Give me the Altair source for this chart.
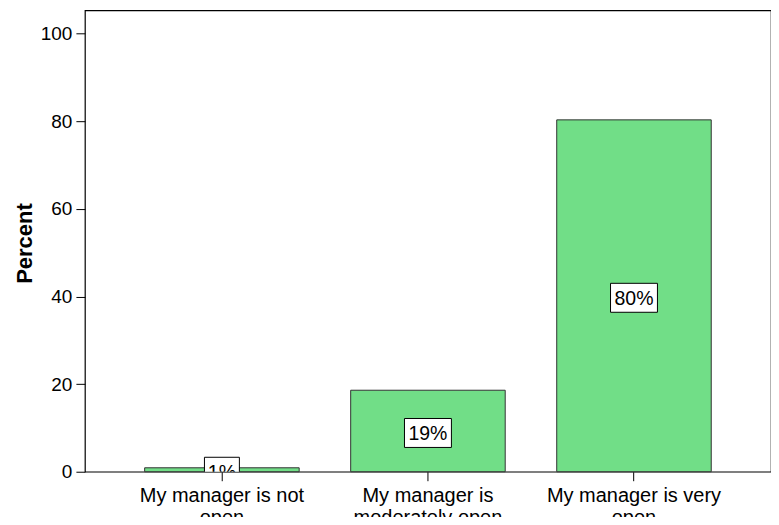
import json
import altair as alt
import pandas as pd

categories = ["My manager is not open", "My manager is moderately open", "My manager is very open"]
label_lines = [["My manager is not", "open"], ["My manager is", "moderately open"], ["My manager is very", "open"]]
percents = [0.9, 18.6, 80.3]
bar_labels = ["1%", "19%", "80%"]
y_ticks = [0, 20, 40, 60, 80, 100]

df = pd.DataFrame({"cat": categories, "pct": percents, "lab": bar_labels})
df["mid"] = df["pct"] / 2


def box_path(text):
    # box width grows with the label length; r = 24 px for size 2304
    w = (12 * len(text) + 11) / 2 / 24
    h = 14.5 / 24
    return f"M{-w:.3f},{-h:.3f}L{w:.3f},{-h:.3f}L{w:.3f},{h:.3f}L{-w:.3f},{h:.3f}Z"


df["box"] = [box_path(t) for t in bar_labels]

mapping = "{" + ",".join(f"{json.dumps(c)}:{json.dumps(l)}" for c, l in zip(categories, label_lines)) + "}"
label_expr = mapping + "[datum.label]"

FONT = "Liberation Sans"

x = alt.X(
    "cat:N",
    sort=categories,
    scale=alt.Scale(paddingInner=0.25, paddingOuter=0.29),
    axis=alt.Axis(
        title=None,
        labelAngle=0,
        labelExpr=label_expr,
        labelFontSize=20,
        labelFont=FONT,
        labelColor="black",
        labelLineHeight=22,
        labelPadding=5,
        labelBaseline="top",
        tickSize=9,
        tickColor="black",
        domain=False,
    ),
)

y_scale = alt.Scale(domain=[0, 105.3], nice=False, zero=True)

bars = alt.Chart(df).mark_bar(
    color="#71DE87", stroke="#333333", strokeWidth=1
).encode(
    x=x,
    y=alt.Y(
        "pct:Q",
        scale=y_scale,
        axis=alt.Axis(
            title="Percent",
            titleFont=FONT,
            titleFontSize=22,
            titleFontWeight="bold",
            titleColor="black",
            titleAngle=-90,
            titleX=-53,
            titleY=233,
            titleAlign="center",
            titleBaseline="alphabetic",
            values=y_ticks,
            labelFont=FONT,
            labelFontSize=19,
            labelColor="black",
            labelPadding=4,
            tickSize=9,
            tickColor="black",
            grid=False,
            domain=False,
        ),
    ),
)

boxes = alt.Chart(df).mark_point(
    filled=True, color="white", stroke="black", strokeWidth=1, opacity=1, size=2304, clip=True, yOffset=2
).encode(
    x=alt.X("cat:N", sort=categories),
    y=alt.Y("mid:Q", scale=y_scale),
    shape=alt.Shape("box:N", scale=None),
)

texts = alt.Chart(df).mark_text(
    font=FONT, fontSize=19.5, color="black", baseline="middle", align="center", clip=True, yOffset=3
).encode(
    x=alt.X("cat:N", sort=categories),
    y=alt.Y("mid:Q", scale=y_scale),
    text="lab:N",
)

chart = alt.layer(bars, boxes, texts).properties(
    width=687,
    height=462,
    autosize=alt.AutoSizeParams(type="none"),
    padding={"left": 77, "top": 2, "right": 0, "bottom": 45},
    background="white",
).configure_view(stroke="black", strokeWidth=1.2)

chart.save("out.html", embed_options={"renderer": "svg", "actions": False})
